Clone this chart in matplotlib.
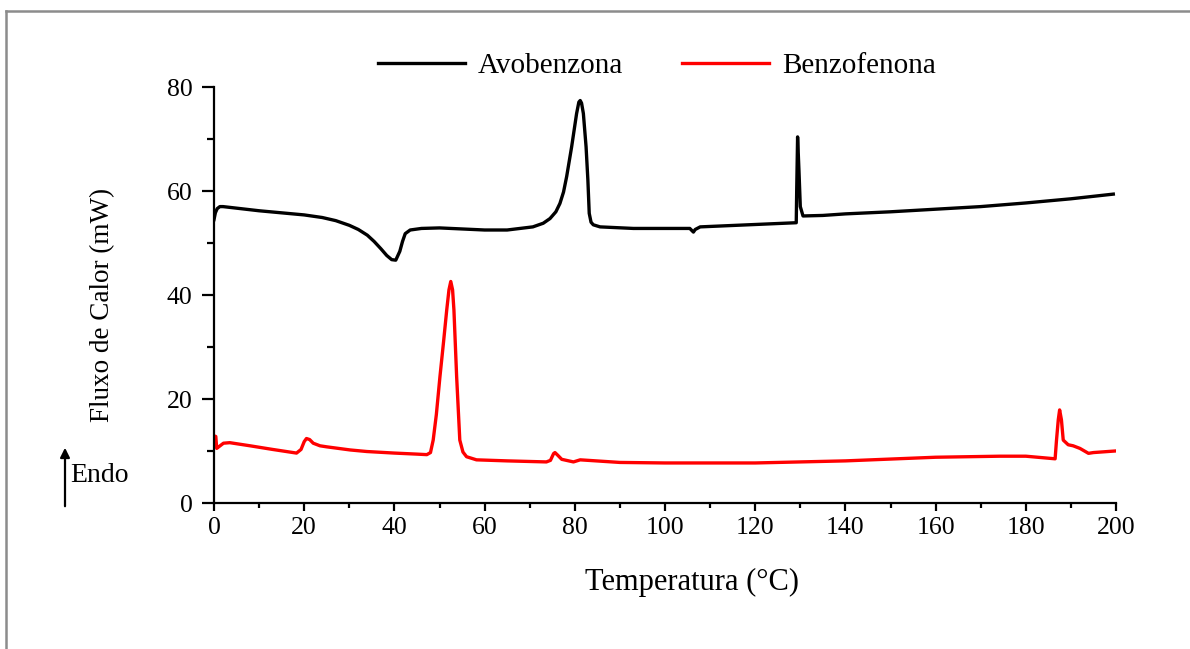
import matplotlib
matplotlib.use("Agg")
import matplotlib.pyplot as plt
from matplotlib.lines import Line2D
from matplotlib.ticker import MultipleLocator

# DSC curves: temperature (°C) vs heat flow (mW)
avo_temp = [0, 0.3, 0.7, 1.3, 2, 5, 10, 15, 20, 24, 27, 30, 32, 34, 35.5, 37,
            38.3, 39.4, 40.3, 41.2, 41.8, 42.4, 43.5, 46, 50, 55, 60, 65, 70.7,
            73.0, 74.5, 75.8, 76.7, 77.5, 78.2, 79.3, 80.4, 80.9, 81.2, 81.5,
            81.9, 82.5, 82.9, 83.2, 83.6, 84.1, 85.6, 93, 105.5, 106.3, 106.7,
            107.8, 129.1, 129.2, 129.4, 129.7, 130.0, 130.6, 135, 140, 150,
            160, 170, 180, 190, 199.4]
avo_flow = [54.5, 55.8, 56.6, 57.0, 57.0, 56.7, 56.2, 55.8, 55.4, 54.9, 54.3,
            53.4, 52.6, 51.5, 50.3, 48.9, 47.6, 46.8, 46.7, 48.4, 50.3, 51.8,
            52.5, 52.8, 52.9, 52.7, 52.5, 52.5, 53.1, 53.8, 54.7, 56.0, 57.6,
            59.8, 62.8, 68.5, 74.9, 77.1, 77.4, 76.9, 74.9, 68.5, 62.1, 55.7,
            54.0, 53.5, 53.1, 52.8, 52.8, 52.1, 52.6, 53.1, 53.9, 60.0, 70.4,
            64.0, 57.0, 55.2, 55.3, 55.6, 56.0, 56.5, 57.0, 57.7, 58.5, 59.4]

benzo_temp = [0, 0.4, 0.6, 1.2, 2.1, 3.5, 8, 13, 18.3, 19.3, 20, 20.5, 21.2, 22,
              23.5, 25, 30.2, 33.9, 40, 45, 47.2, 48.0, 48.6, 49.3, 50.1, 50.9,
              51.6, 52.1, 52.5, 52.9, 53.2, 53.8, 54.5, 55.2, 56, 58.2, 65,
              73.7, 74.6, 75.3, 75.6, 76.2, 77.1, 79.7, 81.2, 90, 100, 110, 120,
              140, 160, 174.3, 180, 186.5, 186.8, 187.2, 187.5, 187.9, 188.3,
              189.4, 190.5, 192, 193.9, 195, 199.8]
benzo_flow = [12.9, 12.8, 10.5, 10.9, 11.5, 11.6, 11.0, 10.3, 9.6, 10.3, 11.8,
              12.4, 12.2, 11.5, 11.0, 10.8, 10.2, 9.9, 9.6, 9.4, 9.3, 9.7, 12.1,
              17.0, 24.3, 31.0, 37.1, 41.0, 42.6, 41.0, 37.1, 24.3, 12.1, 9.8,
              8.9, 8.3, 8.1, 7.9, 8.2, 9.5, 9.7, 9.2, 8.4, 7.9, 8.3, 7.8, 7.7,
              7.7, 7.7, 8.1, 8.8, 9.0, 9.0, 8.5, 12.0, 16.0, 17.9, 16.0, 12.1,
              11.2, 11.0, 10.5, 9.55, 9.7, 10.0]

series_names = ["Avobenzona", "Benzofenona"]
x_label = "Temperatura (°C)"
y_label = "Fluxo de Calor (mW)"

plt.rcParams["font.family"] = ["Liberation Serif", "DejaVu Serif"]

W, H = 1190, 649
fig = plt.figure(figsize=(W / 100, H / 100), dpi=100)
ax = fig.add_axes([214 / W, 1 - 503 / H, (1116 - 214) / W, (503 - 87) / H])

ax.plot(avo_temp, avo_flow, color="black", lw=2.4, label=series_names[0],
        solid_joinstyle="round")
ax.plot(benzo_temp, benzo_flow, color="#ff0000", lw=2.4, label=series_names[1],
        solid_joinstyle="round")

ax.set_xlim(0, 200)
ax.set_ylim(0, 80)
ax.xaxis.set_major_locator(MultipleLocator(20))
ax.xaxis.set_minor_locator(MultipleLocator(10))
ax.yaxis.set_major_locator(MultipleLocator(20))
ax.yaxis.set_minor_locator(MultipleLocator(10))

for side in ("top", "right"):
    ax.spines[side].set_visible(False)
for side in ("left", "bottom"):
    ax.spines[side].set_linewidth(1.6)

ax.tick_params(axis="x", which="major", direction="out", length=6, width=1.6,
               pad=4, labelsize=18.5)
ax.tick_params(axis="x", which="minor", direction="out", length=3.5, width=1.6)
ax.tick_params(axis="y", which="major", direction="out", length=8.5, width=1.6,
               pad=7, labelsize=18.5)
ax.tick_params(axis="y", which="minor", direction="out", length=5, width=1.6)

ax.set_xlabel(x_label, fontsize=22, va="center")
ax.xaxis.set_label_coords(0.53, -0.192)
ax.set_ylabel(y_label, fontsize=19.5, va="center")
ax.yaxis.set_label_coords(-0.123, 0.476)

fig.legend(loc="center", bbox_to_anchor=(657 / W, 1 - 66 / H), ncol=2,
           frameon=False, fontsize=21, handlelength=3.0, handletextpad=0.45,
           columnspacing=2.0)

# Endothermic direction marker
ax.annotate("", xy=(65 / W, 1 - 445 / H), xytext=(65 / W, 1 - 509 / H),
            xycoords="figure fraction", textcoords="figure fraction",
            arrowprops=dict(arrowstyle="-|>", color="black", lw=1.6,
                            mutation_scale=14))
fig.text(70 / W, 1 - 476 / H, "Endo", fontsize=20, va="center", ha="left")

# Outer frame of the figure (top and left edges)
fig.add_artist(Line2D([6 / W, 1], [1 - 11 / H, 1 - 11 / H],
                      transform=fig.transFigure, color="#8c8c8c", lw=1.8))
fig.add_artist(Line2D([6 / W, 6 / W], [0, 1 - 11 / H],
                      transform=fig.transFigure, color="#8c8c8c", lw=1.8))

fig.savefig("out.png", dpi=100)
